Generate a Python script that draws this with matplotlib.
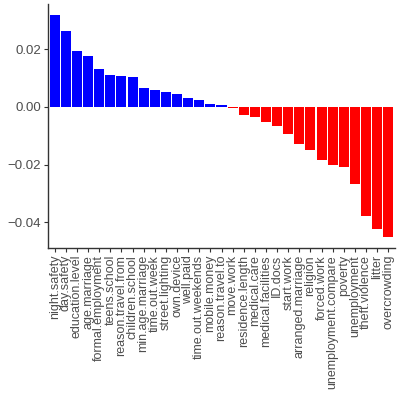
import matplotlib
matplotlib.use('Agg')
import matplotlib.pyplot as plt
import numpy as np

plt.rcParams['font.family'] = ['Liberation Sans', 'DejaVu Sans']

variables = ['night.safety', 'day.safety', 'education.level', 'age.marriage',
	'formal.employment', 'teens.school', 'reason.travel.from', 'children.school',
	'min.age.marriage', 'time.out.week', 'street.lighting', 'own.device',
	'well.paid', 'time.out.weekends', 'mobile.money', 'reason.travel.to',
	'move.work', 'residence.length', 'medical.care', 'medical.facilities',
	'ID.docs', 'start.work', 'arranged.marriage', 'religion', 'forced.work',
	'unemployment.compare', 'poverty', 'unemployment', 'theft.violence',
	'litter', 'overcrowding']
effects = [0.0318, 0.0263, 0.0192, 0.0175, 0.0131, 0.0109, 0.0106, 0.0105,
	0.0066, 0.0057, 0.0052, 0.0045, 0.0030, 0.0023, 0.0011, 0.0005,
	-0.0004, -0.0029, -0.0036, -0.0051, -0.0065, -0.0093, -0.0129, -0.0148,
	-0.0184, -0.0202, -0.0207, -0.0266, -0.0379, -0.0421, -0.0450]

effects = np.array(effects)
colors = ['#0000FF' if v > 0 else '#FF0000' for v in effects]
positions = np.arange(len(variables))

fig = plt.figure(figsize=(3.99, 3.99), dpi=100)
axis = fig.add_axes([48/399, 151/399, 347/399, 244/399])
axis.bar(positions, effects, width=0.9, color=colors, linewidth=0)

span = effects.max() - effects.min()
axis.set_ylim(effects.min() - 0.05*span, effects.max() + 0.05*span)
axis.set_xlim(-0.6, len(variables) - 0.4)
axis.set_yticks([0.02, 0.0, -0.02, -0.04])
axis.set_yticklabels(['0.02', '0.00', '\u22120.02', '\u22120.04'])
axis.set_xticks(positions)
axis.set_xticklabels(variables, rotation=90, ha='center', va='top')

for side in ['top', 'right']:
	axis.spines[side].set_visible(False)
for side in ['left', 'bottom']:
	axis.spines[side].set_color('#333333')
	axis.spines[side].set_linewidth(1.0)
axis.tick_params(axis='both', colors='#333333', length=3, width=0.8, labelsize=9, labelcolor='#4D4D4D', pad=2)
axis.tick_params(axis='y', labelsize=9.5)

fig.savefig('out.png', dpi=100)
